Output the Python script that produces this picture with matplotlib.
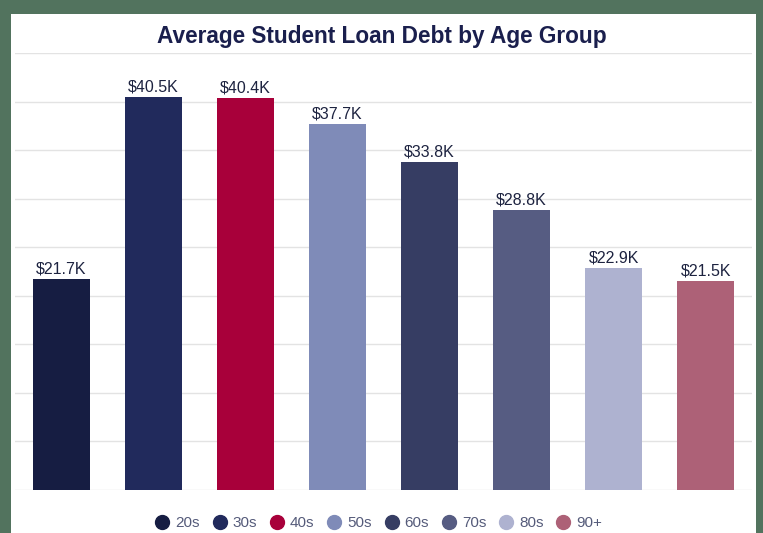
import matplotlib.pyplot as plt
from matplotlib.patches import Rectangle
from matplotlib.lines import Line2D

plt.rcParams['font.family'] = ['Liberation Sans', 'DejaVu Sans']

# data
age_groups = ['20s', '30s', '40s', '50s', '60s', '70s', '80s', '90+']
avg_debt_k = [21.7, 40.5, 40.4, 37.7, 33.8, 28.8, 22.9, 21.5]
bar_colors = ['#161d42', '#212a5c', '#a8003a', '#7f8bb8',
              '#363d63', '#565c82', '#aeb2d0', '#ad6177']

W, H = 763, 533
fig = plt.figure(figsize=(W / 100, H / 100), dpi=100)
fig.patch.set_facecolor('#52735e')

# white card behind the chart
fig.patches.append(Rectangle((11 / W, 0), (756 - 11) / W, (H - 14) / H,
                             transform=fig.transFigure, facecolor='white',
                             edgecolor='none', zorder=-10))

ax = fig.add_axes([15 / W, 1 - 490 / H, (752 - 15) / W, (490 - 53) / H])
ax.set_facecolor('none')
ax.set_zorder(1)

x = range(len(age_groups))
bars = ax.bar(x, avg_debt_k, width=0.62, color=bar_colors, zorder=3)

for b, v in zip(bars, avg_debt_k):
    ax.text(b.get_x() + b.get_width() / 2, v + 0.25, f'${v}K',
            ha='center', va='bottom', fontsize=11.5, color='#1d2340', zorder=4)

ax.set_xlim(-0.5, len(age_groups) - 0.5)
ax.set_ylim(0, 45)
ax.set_yticks(range(0, 46, 5))
ax.grid(axis='y', color='#e3e3e3', linewidth=1, zorder=0)
ax.tick_params(left=False, bottom=False, labelleft=False, labelbottom=False)
for s in ax.spines.values():
    s.set_visible(False)

fig.text(0.5, 1 - 37 / H, 'Average Student Loan Debt by Age Group',
         ha='center', va='center', fontsize=16.3, fontweight='bold', color='#1a1f4d')

handles = [Line2D([], [], marker='o', linestyle='none', markersize=10,
                  markerfacecolor=c, markeredgecolor=c) for c in bar_colors]
fig.legend(handles, age_groups, loc='center', bbox_to_anchor=(0.496, 1 - 523 / H),
           ncol=len(age_groups), frameon=False, fontsize=11, labelcolor='#555b7a',
           handletextpad=0.35, columnspacing=0.8, handlelength=1.0)

fig.savefig('out.png', dpi=100, facecolor=fig.get_facecolor())
